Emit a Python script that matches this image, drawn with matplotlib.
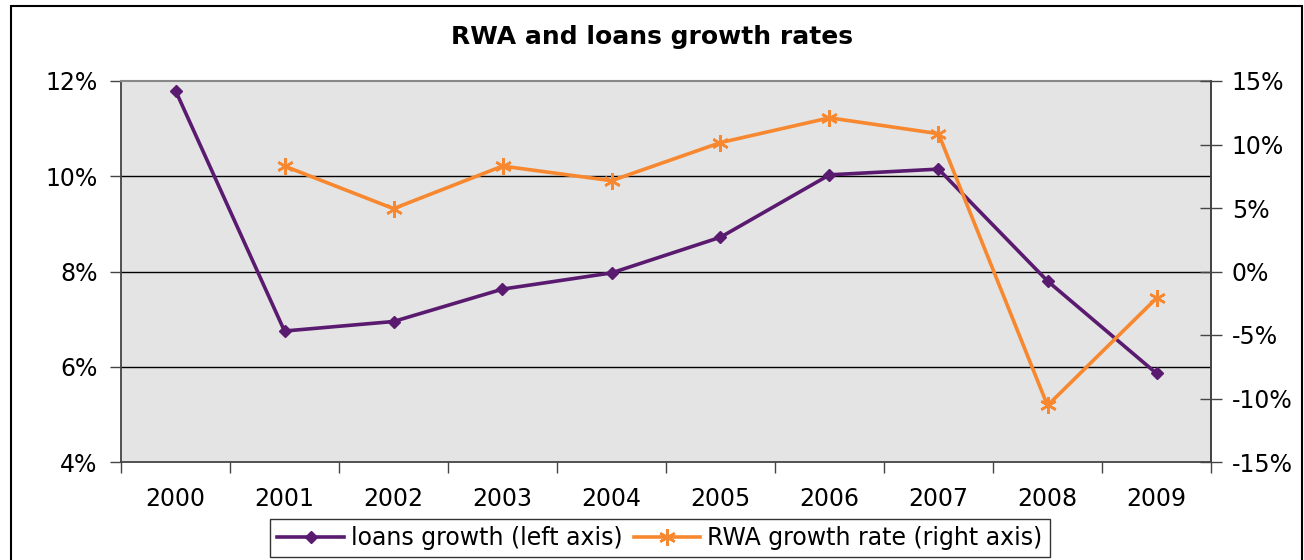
import matplotlib
matplotlib.use("Agg")
import matplotlib.pyplot as plt
import numpy as np
from matplotlib.ticker import FixedLocator, FuncFormatter
from matplotlib.patches import Rectangle

years = ["2000", "2001", "2002", "2003", "2004", "2005", "2006", "2007", "2008", "2009"]
loans_growth = [11.8, 6.75, 6.95, 7.63, 7.97, 8.72, 10.03, 10.15, 7.8, 5.86]
rwa_years = ["2001", "2002", "2003", "2004", "2005", "2006", "2007", "2008", "2009"]
rwa_growth = [8.3, 4.95, 8.3, 7.15, 10.15, 12.1, 10.85, -10.55, -2.1]
left_ticks = [4, 6, 8, 10, 12]
right_ticks = [-15, -10, -5, 0, 5, 10, 15]

purple = "#5A1A6F"
orange = "#F7882F"

plt.rcParams['font.family'] = ['DejaVu Sans']
fig = plt.figure(figsize=(13.04, 5.6), dpi=100)
W, H = 1304, 560
ax = fig.add_axes([121 / W, 1 - 462 / H, (1211 - 121) / W, (462 - 81) / H])
ax.set_facecolor("#E3E4E3")

x = np.arange(len(years))
xr = [years.index(y) for y in rwa_years]

ax.set_xlim(-0.5, len(years) - 0.5)
ax.set_ylim(4, 12)
ax.yaxis.set_major_locator(FixedLocator(left_ticks))
ax.yaxis.set_major_formatter(FuncFormatter(lambda v, p: f"{v:.0f}%"))
ax.set_xticks(np.arange(-0.5, len(years), 1.0))
ax.set_xticklabels([])
ax.set_xticks(x, minor=True)
ax.set_xticklabels(years, minor=True)
ax.tick_params(axis='x', which='major', direction='out', length=8, width=1, color='#444444')
ax.tick_params(axis='x', which='minor', length=0, pad=18, labelsize=17)
ax.tick_params(axis='y', direction='out', length=8, width=1, color='#444444', labelsize=17, pad=9)
for v in [6, 8, 10]:
    ax.axhline(v, color='black', lw=1, zorder=1)
for s in ['left', 'bottom', 'right']:
    ax.spines[s].set_color('#444444')
    ax.spines[s].set_linewidth(1.3)
ax.spines['top'].set_color('#888888')
ax.spines['top'].set_linewidth(1.5)

l1, = ax.plot(x, loans_growth, color=purple, lw=2.6, marker='D', markersize=6.5,
              label='loans growth (left axis)', zorder=3)

ax2 = ax.twinx()
ax2.set_ylim(-15, 15)
ax2.yaxis.set_major_locator(FixedLocator(right_ticks))
ax2.yaxis.set_major_formatter(FuncFormatter(lambda v, p: f"{v:.0f}%"))
ax2.tick_params(axis='y', direction='inout', length=16, width=1, color='#444444', labelsize=17, pad=7)
for s in ax2.spines.values():
    s.set_visible(False)
ax2.spines['right'].set_visible(True)
ax2.spines['right'].set_color('#444444')
ax2.spines['right'].set_linewidth(1.3)
l2, = ax2.plot(xr, rwa_growth, color=orange, lw=2.6, marker=(6, 2, 0), markersize=12,
               markeredgewidth=1.8, label='RWA growth rate (right axis)', zorder=3)

fig.suptitle("RWA and loans growth rates", fontsize=18, fontweight='bold', y=1 - 37 / H, va='center')

leg = fig.legend([l1, l2], [l1.get_label(), l2.get_label()], loc='center',
                 bbox_to_anchor=(660 / W, 1 - 538 / H), ncol=2, fontsize=17,
                 frameon=True, fancybox=False, edgecolor='black', handlelength=2.8,
                 handletextpad=0.3, columnspacing=0.5, borderpad=0.3)
leg.get_frame().set_linewidth(1)

fig.patches.append(Rectangle((11 / W, -0.1), (1302 - 11) / W, 1.1 - 6 / H,
                             transform=fig.transFigure, fill=False, edgecolor='black', lw=1.5))

fig.savefig("out.png", dpi=100)
